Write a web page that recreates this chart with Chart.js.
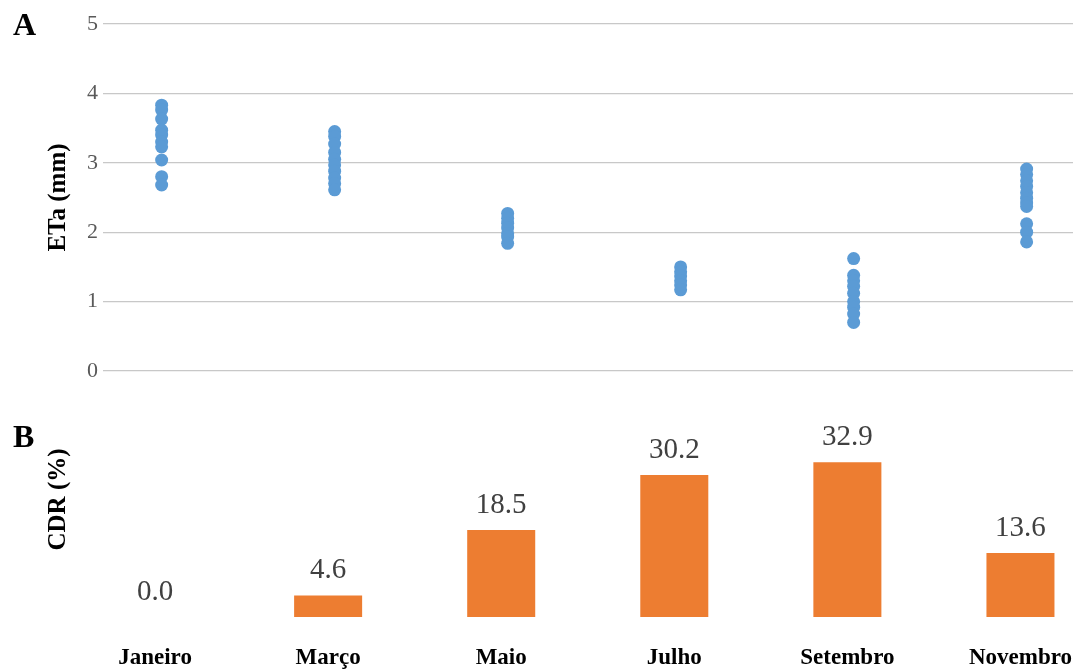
<!DOCTYPE html>
<html>
<head>
<meta charset="utf-8">
<script src="https://cdn.jsdelivr.net/npm/chart.js@4/dist/chart.umd.min.js"></script>
<style>
	body { margin: 0; background: #fff; overflow: hidden; }
	#wrap { position: relative; width: 1073px; height: 670px; overflow: hidden; }
	canvas { position: absolute; left: 0; }
	#etaChart { top: 0; }
	#cdrChart { top: 360px; }
	.panel { position: absolute; left: 13px; font: bold 32px 'Liberation Serif', serif; line-height: 1; color: #000; }
</style>
</head>
<body>
<div id="wrap">
	<canvas id="cdrChart" width="1107" height="310"></canvas>
	<canvas id="etaChart" width="1073" height="400"></canvas>
	<div class="panel" style="top:8px">A</div>
	<div class="panel" style="top:420px">B</div>
</div>
<script>
// months (categories)
let months = ['Janeiro', 'Março', 'Maio', 'Julho', 'Setembro', 'Novembro']

// ETa (mm) per month, one value per year
let etaJaneiro = [3.83, 3.76, 3.63, 3.47, 3.40, 3.30, 3.23, 3.04, 2.80, 2.68]
let etaMarco = [3.45, 3.38, 3.27, 3.15, 3.05, 2.97, 2.88, 2.78, 2.70, 2.61]
let etaMaio = [2.27, 2.20, 2.13, 2.06, 1.98, 1.93, 1.84]
let etaJulho = [1.50, 1.43, 1.37, 1.30, 1.24, 1.17]
let etaSetembro = [1.62, 1.38, 1.30, 1.22, 1.12, 1.00, 0.92, 0.82, 0.70]
let etaNovembro = [2.91, 2.83, 2.74, 2.66, 2.57, 2.49, 2.42, 2.37, 2.12, 2.00, 1.86]

// CDR (%)
let cdr = [0.0, 4.6, 18.5, 30.2, 32.9, 13.6]

let etaTicks = [0, 1, 2, 3, 4, 5]

const serif = "'Liberation Serif', 'Times New Roman', serif"

function build_points() {
	let all = [etaJaneiro, etaMarco, etaMaio, etaJulho, etaSetembro, etaNovembro]
	let pts = []
	all.forEach(function(list, i) {
		for (let v of list) pts.push({x: i + 1, y: v})
	})
	return pts
}

new Chart('etaChart', {
	type: 'scatter',
	data: {
		datasets: [{
			data: build_points(),
			backgroundColor: '#5b9bd5',
			borderWidth: 0,
			pointRadius: 6.5,
			pointHoverRadius: 6.5
		}]
	},
	options: {
		responsive: false,
		animation: false,
		layout: { autoPadding: false, padding: { top: 24, bottom: 29, left: 0, right: 0 } },
		plugins: { legend: { display: false }, tooltip: { enabled: false } },
		scales: {
			x: { type: 'linear', display: false, min: 0.661, max: 6.268, ticks: { display: false } },
			y: {
				min: etaTicks[0],
				max: etaTicks[etaTicks.length - 1],
				afterBuildTicks: function(axis) { axis.ticks = etaTicks.map(v => ({value: v})) },
				afterFit: function(axis) { axis.width = 103 },
				border: { display: false },
				grid: { color: '#c8c8c8', lineWidth: 1.3, drawTicks: false },
				ticks: { padding: 5, color: '#595959', font: { family: serif, size: 22 } },
				title: {
					display: true,
					text: 'ETa (mm)',
					color: '#000',
					font: { family: serif, size: 25, weight: 'bold' },
					padding: { top: 44, bottom: 0 }
				}
			}
		}
	}
})

const barLabels = {
	id: 'barLabels',
	afterDatasetsDraw(chart) {
		let ctx = chart.ctx
		let meta = chart.getDatasetMeta(0)
		ctx.save()
		ctx.font = '29px ' + serif
		ctx.fillStyle = '#404040'
		ctx.textAlign = 'center'
		ctx.textBaseline = 'alphabetic'
		meta.data.forEach(function(bar, i) {
			ctx.fillText(cdr[i].toFixed(1), bar.x, bar.y - 17)
		})
		ctx.restore()
	}
}

new Chart('cdrChart', {
	type: 'bar',
	data: {
		labels: months,
		datasets: [{
			data: cdr,
			backgroundColor: '#ed7d31',
			categoryPercentage: 1,
			barPercentage: 0.393
		}]
	},
	plugins: [barLabels],
	options: {
		responsive: false,
		animation: false,
		layout: { padding: { top: 22, bottom: 0, left: 0, right: 0 } },
		plugins: { legend: { display: false }, tooltip: { enabled: false } },
		scales: {
			x: {
				afterFit: function(axis) { axis.height = 53 },
				border: { display: false },
				grid: { display: false, drawTicks: false },
				ticks: { padding: 27, maxRotation: 0, color: '#000', font: { family: serif, size: 23, weight: 'bold' } }
			},
			y: {
				min: 0,
				max: 50,
				afterFit: function(axis) { axis.width = 68.5 },
				border: { display: false },
				grid: { display: false, drawTicks: false },
				ticks: { display: false },
				title: {
					display: true,
					text: 'CDR (%)',
					color: '#000',
					font: { family: serif, size: 25, weight: 'bold' },
					padding: { top: 44, bottom: 0 }
				}
			}
		}
	}
})
</script>
</body>
</html>
